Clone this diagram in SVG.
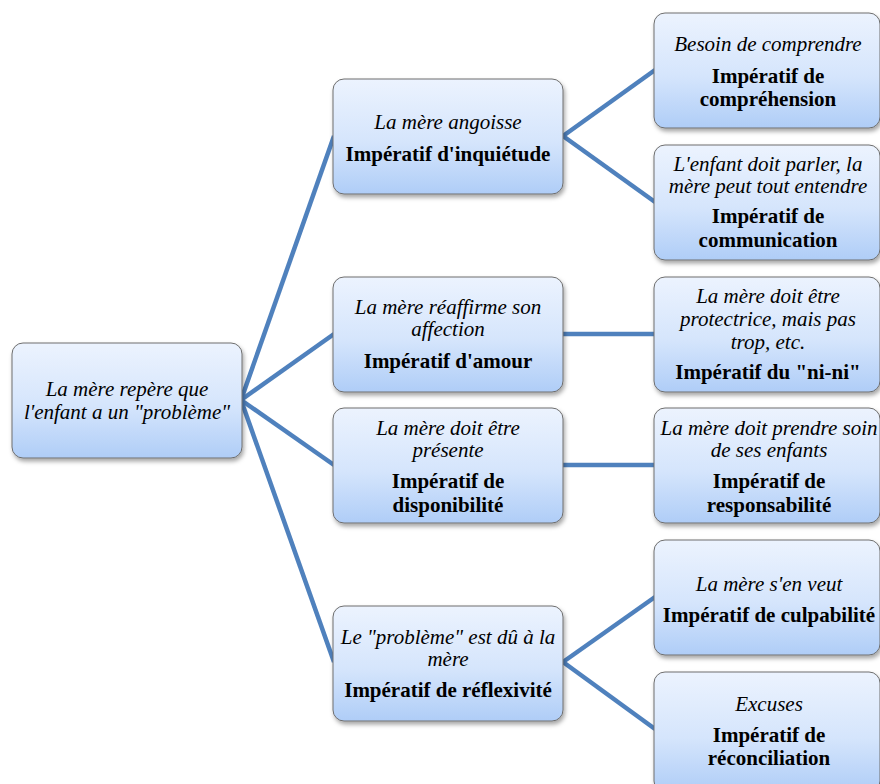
<svg xmlns="http://www.w3.org/2000/svg" width="880" height="784" viewBox="0 0 880 784">
<defs>
<linearGradient id="g" x1="0" y1="0" x2="0" y2="1">
<stop offset="0" stop-color="#ecf3fe"/>
<stop offset="0.55" stop-color="#d5e5fc"/>
<stop offset="1" stop-color="#afcdf7"/>
</linearGradient>
<filter id="sh" x="-10%" y="-10%" width="125%" height="130%">
<feDropShadow dx="1.5" dy="3" stdDeviation="2" flood-color="#000" flood-opacity="0.35"/>
</filter>
</defs>
<style>
.box{fill:url(#g);stroke:#6e6e6e;stroke-width:1;filter:url(#sh)}
.it{font-family:"Liberation Serif","Times New Roman",serif;font-style:italic;font-size:21px;fill:#000;text-anchor:middle}
.bd{font-family:"Liberation Serif","Times New Roman",serif;font-weight:bold;font-size:21px;fill:#000;text-anchor:middle}
.c{stroke:#4f81bd;stroke-width:4.5;fill:none;stroke-linecap:butt}
</style>
<rect width="880" height="784" fill="#fff"/>
<g id="connectors">
<line class="c" x1="241" y1="400" x2="334" y2="136"/>
<line class="c" x1="241" y1="400" x2="334" y2="334"/>
<line class="c" x1="241" y1="400" x2="334" y2="465"/>
<line class="c" x1="241" y1="400" x2="334" y2="662"/>
<line class="c" x1="563" y1="136" x2="655" y2="70"/>
<line class="c" x1="563" y1="136" x2="655" y2="202"/>
<line class="c" x1="563" y1="334" x2="655" y2="334"/>
<line class="c" x1="563" y1="465" x2="655" y2="465"/>
<line class="c" x1="563" y1="662" x2="655" y2="597"/>
<line class="c" x1="563" y1="662" x2="655" y2="729"/>
</g>
<g id="root">
<rect class="box" x="12" y="343" width="230" height="115" rx="11"/>
<text class="it" x="127" y="396">La mère repère que</text>
<text class="it" x="127" y="419">l'enfant a un "problème"</text>
</g>
<g id="inquietude">
<rect class="box" x="333" y="79" width="230" height="115" rx="11"/>
<text class="it" x="448" y="129">La mère angoisse</text>
<text class="bd" x="448" y="161">Impératif d'inquiétude</text>
</g>
<g id="amour">
<rect class="box" x="333" y="277" width="230" height="115" rx="11"/>
<text class="it" x="448" y="314">La mère réaffirme son</text>
<text class="it" x="448" y="336">affection</text>
<text class="bd" x="448" y="368">Impératif d'amour</text>
</g>
<g id="disponibilite">
<rect class="box" x="333" y="408" width="230" height="115" rx="11"/>
<text class="it" x="448" y="435">La mère doit être</text>
<text class="it" x="448" y="457">présente</text>
<text class="bd" x="448" y="488">Impératif de</text>
<text class="bd" x="448" y="512">disponibilité</text>
</g>
<g id="reflexivite">
<rect class="box" x="333" y="606" width="230" height="115" rx="11"/>
<text class="it" x="448" y="644">Le "problème" est dû à la</text>
<text class="it" x="448" y="666">mère</text>
<text class="bd" x="448" y="697">Impératif de réflexivité</text>
</g>
<g id="comprehension">
<rect class="box" x="654" y="13" width="226" height="115" rx="11"/>
<text class="it" x="768" y="51">Besoin de comprendre</text>
<text class="bd" x="768" y="83">Impératif de</text>
<text class="bd" x="768" y="106">compréhension</text>
</g>
<g id="communication">
<rect class="box" x="654" y="145" width="226" height="115" rx="11"/>
<text class="it" x="768" y="171">L'enfant doit parler, la</text>
<text class="it" x="768" y="193">mère peut tout entendre</text>
<text class="bd" x="768" y="223">Impératif de</text>
<text class="bd" x="768" y="247">communication</text>
</g>
<g id="nini">
<rect class="box" x="654" y="277" width="226" height="115" rx="11"/>
<text class="it" x="768" y="303">La mère doit être</text>
<text class="it" x="768" y="326">protectrice, mais pas</text>
<text class="it" x="768" y="349">trop, etc.</text>
<text class="bd" x="768" y="379">Impératif du "ni-ni"</text>
</g>
<g id="responsabilite">
<rect class="box" x="654" y="408" width="226" height="115" rx="11"/>
<text class="it" x="769" y="435">La mère doit prendre soin</text>
<text class="it" x="769" y="457">de ses enfants</text>
<text class="bd" x="769" y="488">Impératif de</text>
<text class="bd" x="769" y="512">responsabilité</text>
</g>
<g id="culpabilite">
<rect class="box" x="654" y="540" width="226" height="115" rx="11"/>
<text class="it" x="769" y="591">La mère s'en veut</text>
<text class="bd" x="769" y="622">Impératif de culpabilité</text>
</g>
<g id="reconciliation">
<rect class="box" x="654" y="672" width="226" height="120" rx="11"/>
<text class="it" x="769" y="711">Excuses</text>
<text class="bd" x="769" y="742">Impératif de</text>
<text class="bd" x="769" y="765">réconciliation</text>
</g>
</svg>
